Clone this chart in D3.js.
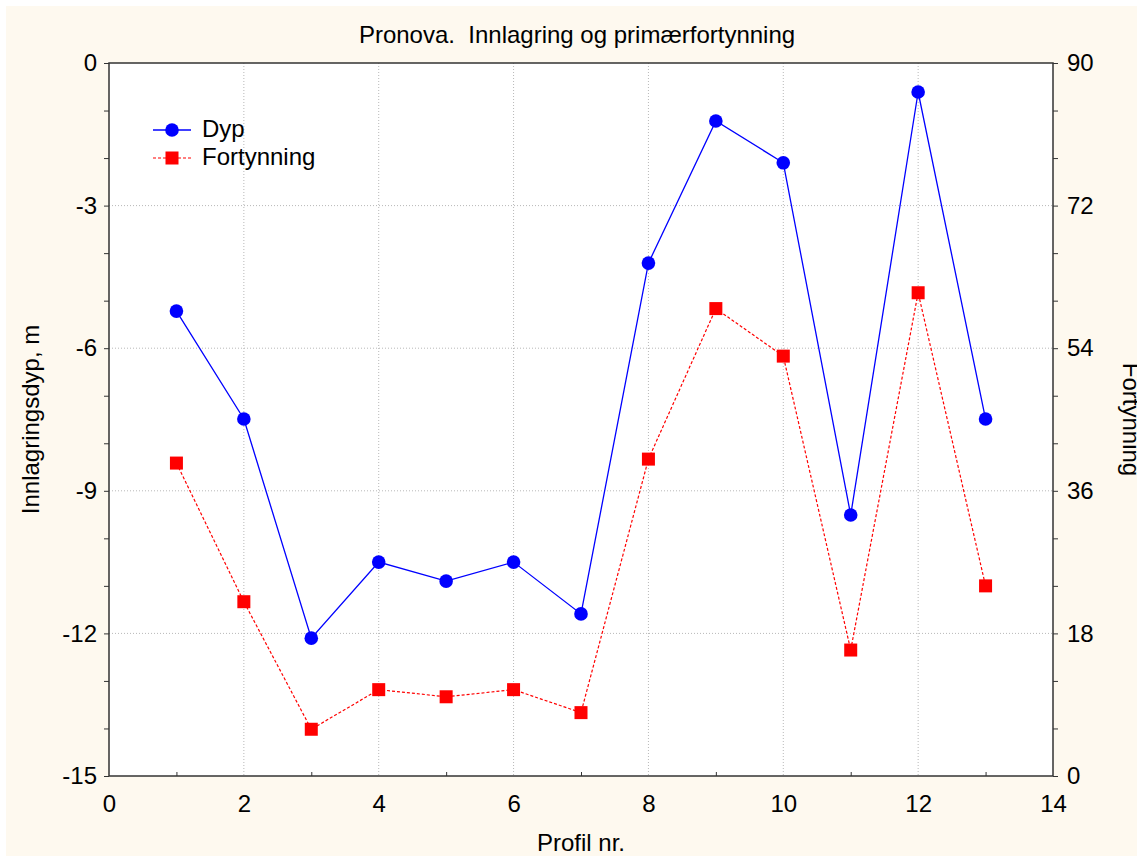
<!DOCTYPE html>
<html>
<head>
<meta charset="utf-8">
<script src="https://cdn.jsdelivr.net/npm/d3@7"></script>
<style>
    body { margin: 0; background: #fff; }
    svg text { font-family: "Liberation Sans", Arial, sans-serif; fill: #000; }
</style>
</head>
<body>
<div id="chart-area"></div>
<script>
// Data
const profiles = [1, 2, 3, 4, 5, 6, 7, 8, 9, 10, 11, 12, 13];
const dyp = [-5.22, -7.49, -12.1, -10.5, -10.9, -10.5, -11.59, -4.21, -1.22, -2.1, -9.51, -0.61, -7.49];
const fortynning = [39.5, 22.0, 5.9, 10.9, 10.0, 10.9, 8.0, 40.0, 59.0, 53.0, 15.9, 61.0, 24.0];
const xTicks = [0, 2, 4, 6, 8, 10, 12, 14];
const yLeftTicks = [0, -3, -6, -9, -12, -15];
const yRightTicks = [90, 72, 54, 36, 18, 0];

const width = 1137;
const height = 856;
const margin = { left: 109, right: 84, top: 63, bottom: 80 };
const fontSize = '24px';

const svg = d3.select('#chart-area')
    .append('svg')
    .attr('width', width)
    .attr('height', height);

// cream figure background
svg.append('rect')
    .attr('x', 6).attr('y', 6)
    .attr('width', width - 6).attr('height', height - 6)
    .attr('fill', '#fef9ef');

const x = d3.scaleLinear().domain([0, 14]).range([margin.left, width - margin.right]);
const yL = d3.scaleLinear().domain([-15, 0]).range([height - margin.bottom, margin.top]);
const yR = d3.scaleLinear().domain([0, 90]).range([height - margin.bottom, margin.top]);

const plotW = x(14) - x(0);
const plotH = yL(-15) - yL(0);

svg.append('rect')
    .attr('x', x(0)).attr('y', yL(0))
    .attr('width', plotW).attr('height', plotH)
    .attr('fill', '#fff');

// gridlines
const grid = svg.append('g');
xTicks.slice(1, -1).forEach(t => {
    grid.append('line')
        .attr('x1', x(t)).attr('x2', x(t))
        .attr('y1', yL(0)).attr('y2', yL(-15))
        .attr('stroke', '#b8b8b8').attr('stroke-dasharray', '1,2');
});
yLeftTicks.slice(1, -1).forEach(t => {
    grid.append('line')
        .attr('x1', x(0)).attr('x2', x(14))
        .attr('y1', yL(t)).attr('y2', yL(t))
        .attr('stroke', '#b8b8b8').attr('stroke-dasharray', '1,2');
});

// axes
const plain = d => String(d);
const xAxis = d3.axisBottom(x).tickValues(xTicks).tickSize(0).tickPadding(19).tickFormat(plain);
const xMinor = d3.axisBottom(x).tickValues(d3.range(1, 14, 2)).tickSize(-4).tickFormat('');
const yAxisL = d3.axisLeft(yL).tickValues(yLeftTicks).tickSize(5).tickPadding(7).tickFormat(plain);
const yMinorL = d3.axisLeft(yL).tickValues(d3.range(-14, 0).filter(v => v % 3 !== 0)).tickSize(5).tickFormat('');
const yAxisR = d3.axisRight(yR).tickValues(yRightTicks).tickSize(5).tickPadding(9).tickFormat(plain);
const yMinorR = d3.axisRight(yR).tickValues(d3.range(6, 90, 6).filter(v => v % 18 !== 0)).tickSize(5).tickFormat('');

function styleAxis(g) {
    g.select('.domain').remove();
    g.selectAll('line').attr('stroke', '#333');
    g.selectAll('text').style('font-size', fontSize).attr('fill', '#000');
}

svg.append('g').attr('transform', `translate(0,${yL(-15)})`).call(xAxis).call(styleAxis);
svg.append('g').attr('transform', `translate(0,${yL(-15)})`).call(xMinor).call(styleAxis);
svg.append('g').attr('transform', `translate(${x(0)},0)`).call(yAxisL).call(styleAxis);
svg.append('g').attr('transform', `translate(${x(0)},0)`).call(yMinorL).call(styleAxis);
svg.append('g').attr('transform', `translate(${x(14)},0)`).call(yAxisR).call(styleAxis);
svg.append('g').attr('transform', `translate(${x(14)},0)`).call(yMinorR).call(styleAxis);

// frame
svg.append('rect')
    .attr('x', x(0)).attr('y', yL(0))
    .attr('width', plotW).attr('height', plotH)
    .attr('fill', 'none').attr('stroke', '#333').attr('stroke-width', 1.5);

// series
const dypData = profiles.map((p, i) => ({ p, v: dyp[i] }));
const fortData = profiles.map((p, i) => ({ p, v: fortynning[i] }));

svg.append('path')
    .datum(fortData)
    .attr('d', d3.line().x(d => x(d.p)).y(d => yR(d.v)))
    .attr('fill', 'none').attr('stroke', '#ff0000')
    .attr('stroke-width', 1.2).attr('stroke-dasharray', '3,2');

svg.append('path')
    .datum(dypData)
    .attr('d', d3.line().x(d => x(d.p)).y(d => yL(d.v)))
    .attr('fill', 'none').attr('stroke', '#0000ff').attr('stroke-width', 1.3);

const sq = 13;
svg.selectAll('.fort-pt')
    .data(fortData)
    .enter()
    .append('rect')
    .attr('class', 'fort-pt')
    .attr('x', d => x(d.p) - sq / 2)
    .attr('y', d => yR(d.v) - sq / 2)
    .attr('width', sq).attr('height', sq)
    .attr('fill', '#ff0000');

svg.selectAll('.dyp-pt')
    .data(dypData)
    .enter()
    .append('circle')
    .attr('class', 'dyp-pt')
    .attr('cx', d => x(d.p))
    .attr('cy', d => yL(d.v))
    .attr('r', 6.8)
    .attr('fill', '#0000ff');

// legend
const legend = svg.append('g');
legend.append('line').attr('x1', 153).attr('x2', 191).attr('y1', 130).attr('y2', 130)
    .attr('stroke', '#0000ff').attr('stroke-width', 1.3);
legend.append('circle').attr('cx', 172).attr('cy', 130).attr('r', 6.8).attr('fill', '#0000ff');
legend.append('text').attr('x', 202).attr('y', 137).style('font-size', fontSize).text('Dyp');
legend.append('line').attr('x1', 153).attr('x2', 191).attr('y1', 158).attr('y2', 158)
    .attr('stroke', '#ff0000').attr('stroke-width', 1.2).attr('stroke-dasharray', '3,2');
legend.append('rect').attr('x', 172 - sq / 2).attr('y', 158 - sq / 2)
    .attr('width', sq).attr('height', sq).attr('fill', '#ff0000');
legend.append('text').attr('x', 202).attr('y', 165).style('font-size', fontSize).text('Fortynning');

// titles
svg.append('text')
    .attr('x', 577).attr('y', 43)
    .attr('text-anchor', 'middle')
    .attr('xml:space', 'preserve')
    .style('font-size', fontSize)
    .style('white-space', 'pre')
    .text('Pronova.  Innlagring og primærfortynning');

svg.append('text')
    .attr('x', 581).attr('y', 851)
    .attr('text-anchor', 'middle')
    .style('font-size', fontSize)
    .text('Profil nr.');

svg.append('text')
    .attr('transform', `translate(39, ${(yL(0) + yL(-15)) / 2}) rotate(-90)`)
    .attr('text-anchor', 'middle')
    .style('font-size', fontSize)
    .text('Innlagringsdyp, m');

svg.append('text')
    .attr('transform', `translate(1123, ${(yL(0) + yL(-15)) / 2}) rotate(90)`)
    .attr('text-anchor', 'middle')
    .style('font-size', fontSize)
    .text('Fortynning');
</script>
</body>
</html>
